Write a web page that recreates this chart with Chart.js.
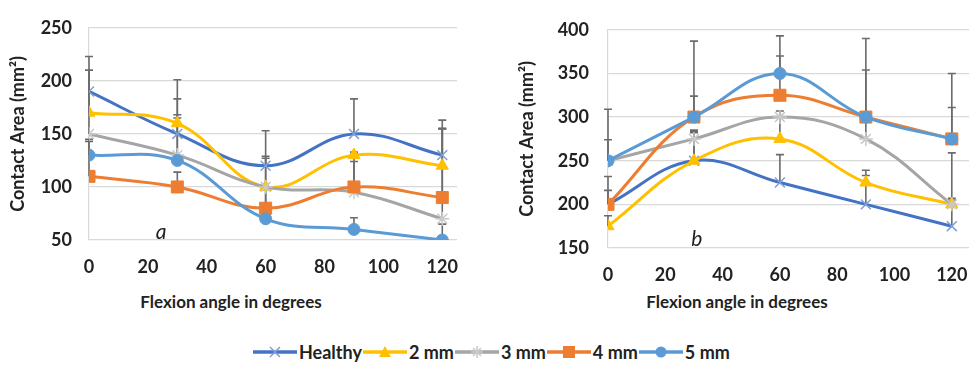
<!DOCTYPE html>
<html>
<head>
<meta charset="utf-8">
<script src="https://cdn.jsdelivr.net/npm/chart.js@4.4.0/dist/chart.umd.min.js"></script>
<style>
  body { margin: 0; background: #fff; width: 969px; height: 370px; overflow: hidden; position: relative; font-family: Lato, "Open Sans", sans-serif; color: #222; }
  .box { position: absolute; top: 0; height: 290px; }
  #boxA { left: 0; width: 462px; }
  #boxB { left: 480px; width: 489px; }
  .xt { position: absolute; top: 291px; font-weight: bold; font-size: 17px; white-space: nowrap; transform: translateX(-50%); }
  #legend { position: absolute; top: 341px; left: 253px; display: flex; align-items: center; font-weight: bold; font-size: 18px; }
  #legend span.item { display: flex; align-items: center; margin-right: 1px; }
  #legend svg { margin-right: 2px; }
</style>
</head>
<body>
<div class="box" id="boxA"><canvas id="chartA"></canvas></div>
<div class="box" id="boxB"><canvas id="chartB"></canvas></div>
<div class="xt" style="left:231px">Flexion angle in degrees</div>
<div class="xt" style="left:737px">Flexion angle in degrees</div>
<div id="legend"></div>

<script>
// --- datos ---
const angles = [0, 30, 60, 90, 120];
const xTicks = [0, 20, 40, 60, 80, 100, 120];
const seriesNames = ['Healthy', '2 mm', '3 mm', '4 mm', '5 mm'];

// grafico a
const healthyA = [190, 150, 120, 150, 130];
const mm2A = [170, 160, 100, 130, 120];
const mm3A = [150, 130, 100, 95, 70];
const mm4A = [110, 100, 80, 100, 90];
const mm5A = [130, 125, 70, 60, 50];
// barras de error (solo positivas)
const errHealthyA = [33, 33, 9, 33, 33];
const err2A = [40, 41, 53, 3, 35];
const err3A = [60, 38, 27, 37, 85];
const err4A = [33, 14, 20, 24, 65];
const err5A = [15, 40, 30, 11, 15];

// grafico b
const healthyB = [200, 250, 225, 200, 175];
const mm2B = [175, 250, 275, 225, 200];
const mm3B = [250, 275, 300, 275, 200];
const mm4B = [200, 300, 325, 300, 275];
const mm5B = [250, 300, 350, 300, 275];
const errHealthyB = [32, 32, 32, 33, 30];
const err2B = [12, 33, 25, 14, 7];
const err3B = [24, 10, 7, 25, 59];
const err4B = [16, 24, 45, 54, 36];
const err5B = [59, 87, 43, 90, 75];

// --- estilos ---
const lineColors = ['#4472C4', '#FFC000', '#A5A5A5', '#ED7D31', '#5B9BD5'];
const markerColors = ['#7F9FD6', '#FFC000', '#C9C9C9', '#ED7D31', '#5B9BD5'];
const markerStyles = ['crossRot', 'triangle', 'star', 'rect', 'circle'];
const markerRadius = [7, 7, 7, 8.5, 6];

// barras de error: se dibujan debajo de las lineas
const errorBars = {
    id: 'errorBars',
    beforeDatasetsDraw(chart) {
        const { ctx, scales: { x, y } } = chart;
        ctx.save();
        ctx.strokeStyle = '#6b6b6b';
        ctx.lineWidth = 1.6;
        chart.data.datasets.forEach(ds => {
            ds.data.forEach((p, i) => {
                const e = ds.errPlus[i];
                if (!e) return;
                const px = x.getPixelForValue(p.x);
                const y0 = y.getPixelForValue(p.y);
                const y1 = y.getPixelForValue(p.y + e);
                ctx.beginPath();
                ctx.moveTo(px, y0); ctx.lineTo(px, y1);
                ctx.moveTo(px - 4, y1); ctx.lineTo(px + 4, y1);
                ctx.stroke();
            });
        });
        ctx.restore();
    }
};

// etiqueta "a" / "b" dentro del area
const panelLabel = {
    id: 'panelLabel',
    afterDraw(chart, args, opts) {
        const { ctx, scales: { x, y } } = chart;
        ctx.save();
        ctx.font = 'italic 21px Lato, sans-serif';
        ctx.fillStyle = '#222';
        ctx.textAlign = 'center';
        ctx.textBaseline = 'middle';
        ctx.fillText(opts.text, x.getPixelForValue(opts.x), y.getPixelForValue(opts.y));
        ctx.restore();
    }
};

function makeDatasets(values, errors) {
    return seriesNames.map((name, k) => ({
        label: name,
        data: angles.map((a, i) => ({ x: a, y: values[k][i] })),
        errPlus: errors[k],
        borderColor: lineColors[k],
        borderWidth: 3,
        tension: 0.4,
        pointStyle: markerStyles[k],
        pointRadius: markerRadius[k],
        pointBorderColor: markerColors[k],
        pointBackgroundColor: markerColors[k],
        pointBorderWidth: (k === 0 || k === 2) ? 1.5 : 1,
        order: 5 - k
    }));
}

const tickFont = { family: 'Lato', size: 18, weight: 'bold' };

function makeOptions(cfg) {
    return {
        responsive: true,
        maintainAspectRatio: false,
        animation: false,
        layout: { autoPadding: false, padding: { left: cfg.padLeft, top: cfg.padTop, right: cfg.padRight, bottom: 0 } },
        scales: {
            x: {
                type: 'linear',
                min: 0, max: cfg.xMax,
                grid: { display: false, drawTicks: false },
                border: { display: false },
                ticks: { padding: cfg.xTickPad, color: '#222', font: tickFont },
                afterBuildTicks: s => { s.ticks = xTicks.map(v => ({ value: v })); },
                afterFit: s => { s.height = cfg.xAxisH; s.paddingLeft = 0; s.paddingRight = 0; }
            },
            y: {
                min: cfg.yMin, max: cfg.yMax,
                grid: { color: '#D9D9D9', lineWidth: 1.2, drawTicks: false },
                border: { display: true, color: '#D9D9D9', width: 1.2 },
                ticks: { stepSize: 50, padding: cfg.yTickPad, color: '#222', font: tickFont },
                title: { display: true, text: 'Contact Area (mm²)', color: '#222', font: { family: 'Lato', size: 18, weight: 'bold' } },
                afterFit: s => { s.width = cfg.yAxisW; }
            }
        },
        plugins: {
            legend: { display: false },
            tooltip: { enabled: false },
            panelLabel: cfg.label
        }
    };
}

new Chart(document.getElementById('chartA'), {
    type: 'line',
    data: { datasets: makeDatasets([healthyA, mm2A, mm3A, mm4A, mm5A], [errHealthyA, err2A, err3A, err4A, err5A]) },
    options: makeOptions({ padLeft: 3, padTop: 21, padRight: 5, xMax: 125, yMin: 50, yMax: 250,
        xTickPad: 16, yTickPad: 17, xAxisH: 50, yAxisW: 86, label: { text: 'a', x: 24.5, y: 57 } }),
    plugins: [errorBars, panelLabel]
});

new Chart(document.getElementById('chartB'), {
    type: 'line',
    data: { datasets: makeDatasets([healthyB, mm2B, mm3B, mm4B, mm5B], [errHealthyB, err2B, err3B, err4B, err5B]) },
    options: makeOptions({ padLeft: 32, padTop: 22, padRight: 0, xMax: 126, yMin: 150, yMax: 400,
        xTickPad: 16, yTickPad: 19, xAxisH: 42, yAxisW: 96, label: { text: 'b', x: 31, y: 160 } }),
    plugins: [errorBars, panelLabel]
});

// --- leyenda comun ---
function markerSvg(k) {
    const c = markerColors[k];
    switch (markerStyles[k]) {
        case 'crossRot': return `<path d="M17 2 L27 12 M27 2 L17 12" stroke="${c}" stroke-width="1.5"/>`;
        case 'triangle': return `<polygon points="22,1 28,12 16,12" fill="${c}"/>`;
        case 'star': return `<path d="M22 1 V13 M16 7 H28 M18 3 L26 11 M26 3 L18 11" stroke="${c}" stroke-width="1.5"/>`;
        case 'rect': return `<rect x="16" y="1" width="12" height="12" fill="${c}"/>`;
        default: return `<circle cx="22" cy="7" r="5.5" fill="${c}"/>`;
    }
}
const legend = document.getElementById('legend');
seriesNames.forEach((name, k) => {
    const item = document.createElement('span');
    item.className = 'item';
    item.innerHTML = `<svg width="44" height="14"><line x1="0" y1="7" x2="44" y2="7" stroke="${lineColors[k]}" stroke-width="3.5"/>${markerSvg(k)}</svg>${name}`;
    legend.appendChild(item);
});
</script>
</body>
</html>
